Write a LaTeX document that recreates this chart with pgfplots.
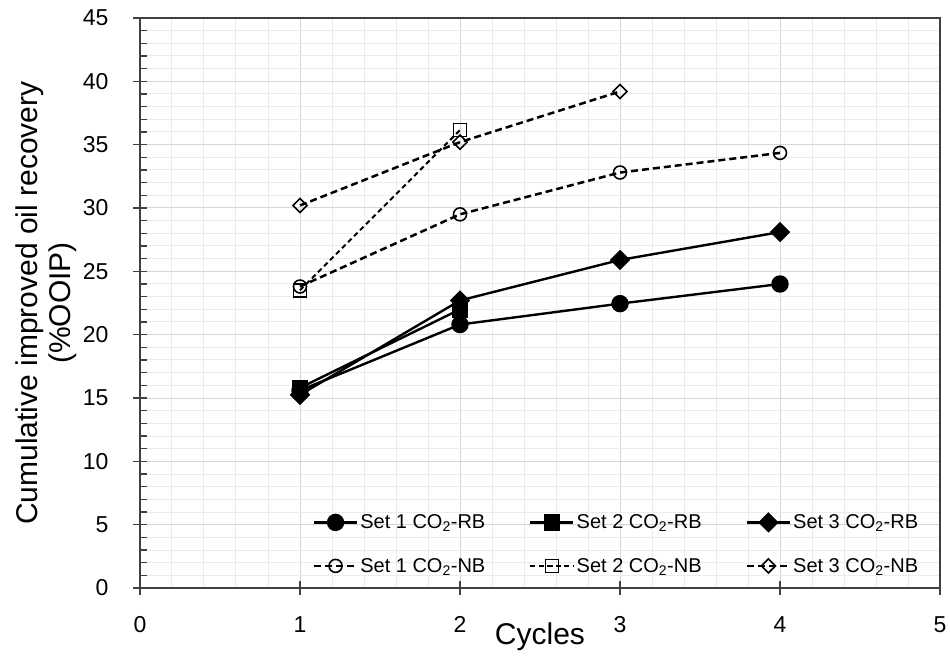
\documentclass[border=0pt]{standalone}
\usepackage{fontspec}
\setmainfont{Liberation Sans}
\usepackage{pgfplots}
\pgfplotsset{compat=1.18}

\definecolor{axisgray}{HTML}{404040}
\definecolor{majgrid}{HTML}{D6D6D6}
\definecolor{mingrid}{HTML}{EBEBEB}

\begin{document}
\begin{tikzpicture}
\begin{axis}[
  scale only axis,
  width=800pt, height=570pt,
  xmin=0, xmax=5, ymin=0, ymax=45,
  xtick={0,1,2,3,4,5},
  ytick={0,5,10,15,20,25,30,35,40,45},
  xtick pos=bottom, ytick pos=left,
  minor x tick num=4,
  minor y tick num=4,
  grid=both,
  major grid style={draw=majgrid, line width=1pt},
  minor grid style={draw=mingrid, line width=1pt},
  axis line style={draw=axisgray, line width=1.3pt},
  tick align=center,
  major tick length=14pt,
  minor tick length=7pt,
  tick style={draw=axisgray, line width=1.1pt},
  minor x tick style={draw=none},
  minor y tick style={xshift=3.5pt},
  tick label style={font=\fontsize{23}{27}\selectfont, text=black},
  /pgf/number format/assume math mode=true,
  xticklabel style={yshift=-18pt},
  yticklabel style={xshift=-21pt},
  xlabel={Cycles},
  ylabel={Cumulative improved oil recovery\\(\%OOIP)},
  xlabel style={font=\fontsize{30}{34}\selectfont, at={(axis description cs:0.5,-0.085)}, anchor=center},
  ylabel style={font=\fontsize{30}{33}\selectfont, align=center, at={(axis description cs:-0.1175,0.5)}, anchor=center},
  legend columns=3,
  legend cell align=left,
  legend style={
    at={(rel axis cs:0.212,0.136)}, anchor=north west,
    draw=none, fill=none,
    font=\fontsize{20}{24}\selectfont,
    row sep=24pt,
    /tikz/every even column/.append style={column sep=42pt},
  },
  legend image code/.code={%
    \draw[mark repeat=2, mark phase=2, #1]
      plot coordinates {(0pt,0pt) (21.5pt,0pt) (43pt,0pt)};},
]
\coordinate (o) at (rel axis cs:0,0);

% reservoir brine (solid lines, filled marks)
\addplot[black, line width=2.4pt, mark=*, mark size=7.5pt]
  coordinates {(1,15.6) (2,20.8) (3,22.45) (4,24.0)};
\addlegendentry{Set 1 CO\textsubscript{2}-RB}
\addplot[black, line width=2.4pt, mark=square*, mark size=7pt]
  coordinates {(1,15.8) (2,22.0)};
\addlegendentry{Set 2 CO\textsubscript{2}-RB}
\addplot[black, line width=2.4pt, mark=square*, mark size=6pt, mark options={rotate=45}]
  coordinates {(1,15.25) (2,22.7) (3,25.9) (4,28.1)};
\addlegendentry{Set 3 CO\textsubscript{2}-RB}

% no brine (dashed lines, open marks)
\addplot[black, line width=2.5pt, dash pattern=on 7pt off 4pt,
  mark=o, mark size=6.5pt, mark options={solid, fill=white, line width=1.6pt}]
  coordinates {(1,23.8) (2,29.5) (3,32.8) (4,34.35)};
\addlegendentry{Set 1 CO\textsubscript{2}-NB}
\addplot[black, line width=2pt, dash pattern=on 5pt off 3.5pt,
  mark=square, mark size=6.5pt, mark options={solid, fill=white, line width=1.6pt}]
  coordinates {(1,23.5) (2,36.15)};
\addlegendentry{Set 2 CO\textsubscript{2}-NB}
\addplot[black, line width=2.5pt, dash pattern=on 7pt off 4pt,
  mark=square, mark size=5pt, mark options={solid, fill=white, line width=1.6pt, rotate=45}]
  coordinates {(1,30.2) (2,35.2) (3,39.2)};
\addlegendentry{Set 3 CO\textsubscript{2}-NB}
\end{axis}
\pgfresetboundingbox
\path (o) ++(-140pt,-68pt) rectangle ++(950pt,656pt);
\end{tikzpicture}
\end{document}
